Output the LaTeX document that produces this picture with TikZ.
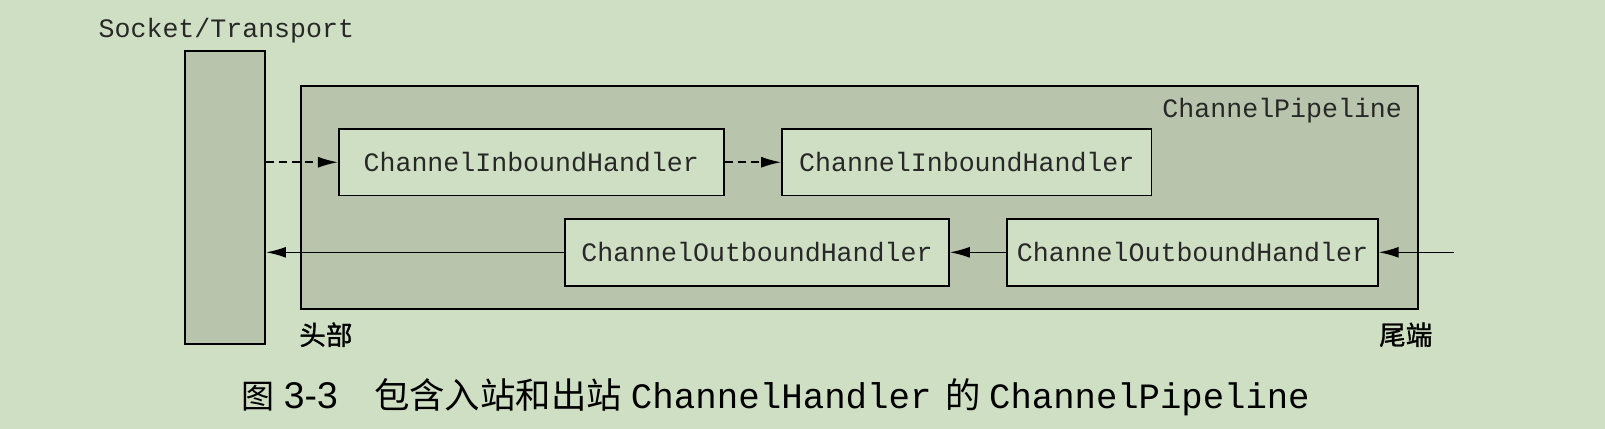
\documentclass[tikz,border=0pt]{standalone}
\usepackage{fontspec}
\setmonofont{Liberation Mono}
\setsansfont{Liberation Sans}
\newfontfamily\cjk{Noto Sans CJK SC}
\newfontfamily\cjkb[FakeBold=1.2]{Noto Sans CJK SC}
\usetikzlibrary{arrows.meta}
\definecolor{bg}{RGB}{207,223,196}
\definecolor{boxfill}{RGB}{184,196,172}
\definecolor{txt}{RGB}{40,40,40}
\begin{document}
\begin{tikzpicture}[x=0.51180pt,y=-0.51180pt,
  handler/.style={draw=black,line width=0.9pt,fill=bg,minimum height=33.3pt,inner sep=0pt,
    font=\ttfamily\fontsize{13.3}{15}\selectfont,text=txt},
  outer/.style={draw=black,line width=0.9pt,fill=boxfill,inner sep=0pt},
  conn/.style={line width=0.8pt,-{Latex[length=10pt,width=5.5pt]}},
  dconn/.style={conn,dash pattern=on 4pt off 2.5pt},
  lbl/.style={inner sep=0pt,font=\ttfamily\fontsize{13.3}{15}\selectfont,text=txt},
  cjklbl/.style={inner sep=0pt,font=\cjkb\fontsize{13.3}{15}\selectfont},
  captext/.style={inner sep=0pt,anchor=base west}]
\fill[bg] (0,0) rectangle (1568,419.1);
\useasboundingbox (0,0) rectangle (1568,419.1);
\node[outer,minimum width=39.9pt,minimum height=146.4pt] (socket) at (220,193) {};
\node[outer,minimum width=558.4pt,minimum height=111.6pt] (pipe) at (839.5,193) {};
\node[lbl,anchor=west] (socklbl) at (96,30) {Socket/Transport};
\node[lbl,anchor=east] (pipelbl) at (1370,108) {ChannelPipeline};
\node[handler,minimum width=192.4pt] (in1) at (519,158.5) {ChannelInboundHandler};
\node[handler,minimum width=184.8pt] (in2) at (944.5,158.5) {ChannelInboundHandler};
\node[handler,minimum width=191.9pt] (out1) at (739.5,246.5) {ChannelOutboundHandler};
\node[handler,minimum width=185.3pt] (out2) at (1165,246.5) {ChannelOutboundHandler};
\coordinate (tail) at (1420,246.5);
\draw[dconn] (socket.east |- in1) -- (in1.west);
\draw[dconn] (in1.east) -- (in2.west);
\draw[conn] (tail) -- (out2.east);
\draw[conn] (out2.west) -- (out1.east);
\draw[conn] (out1.west) -- (socket.east |- out1);
\node[cjklbl,anchor=west] (head) at (292,327) {头部};
\node[cjklbl,anchor=west] (end) at (1347,327) {尾端};
\node[captext,font=\cjk\fontsize{16.5}{20}\selectfont] (c1) at (236,399) {图};
\node[captext,font=\sffamily\fontsize{18.6}{20}\selectfont] (c2) at (277,399) {3-3};
\node[captext,font=\cjk\fontsize{17.7}{20}\selectfont] (c3) at (365,399) {包含入站和出站};
\node[captext,font=\ttfamily\fontsize{17.9}{20}\selectfont] (c4) at (616,399) {ChannelHandler};
\node[captext,font=\cjk\fontsize{17.7}{20}\selectfont] (c5) at (923,399) {的};
\node[captext,font=\ttfamily\fontsize{17.8}{20}\selectfont] (c6) at (966,399) {ChannelPipeline};
\end{tikzpicture}
\end{document}
